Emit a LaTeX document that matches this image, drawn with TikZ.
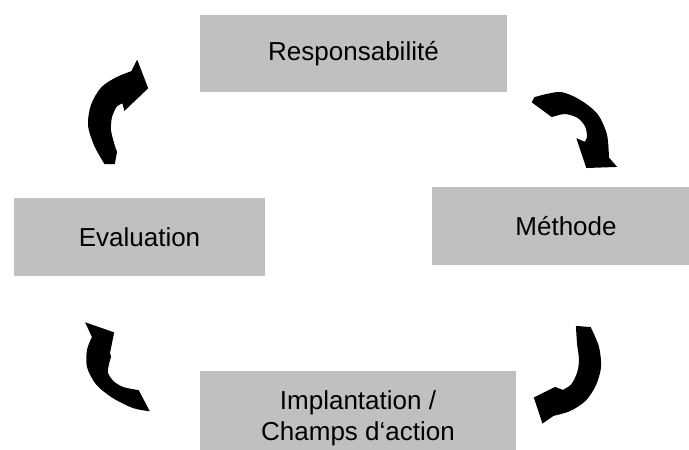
\documentclass[tikz,border=0pt]{standalone}
\usepackage{fontspec}
\setmainfont{Liberation Sans}
\definecolor{boxgrey}{RGB}{192,192,192}

\begin{document}
\begin{tikzpicture}[x = 1pt, y = -1pt,
                      stage/.style = {rectangle, fill = boxgrey, inner sep = 0pt, align = center,
                                      font = \fontsize{26}{31}\selectfont},
                      turn/.style = {fill = black, draw = black, line width = 2pt, line join = miter}]
    \useasboundingbox (0, 0) rectangle (689, 450);
    \clip (0, 0) rectangle (689, 450);

    \node [stage, minimum width = 307, minimum height = 77] (resp) at (353.5, 53.5){Responsabilité};
    \node [stage, minimum width = 268, minimum height = 78] (meth) at (566, 226){Méthode};
    \node [stage, minimum width = 316, minimum height = 94] (impl) at (358, 418){Implantation /\\Champs d‘action};
    \node [stage, minimum width = 251, minimum height = 78] (eval) at (139.5, 237){Evaluation};

    % Evaluation -> Responsabilite
    \fill [turn] plot [smooth] coordinates {(105, 163) (95, 145) (89, 125) (92, 105) (102, 88) (117, 78) (132, 72)}
        -- (137, 62) -- (147, 88) -- (125, 109) -- (123, 102)
        -- plot [smooth] coordinates {(123, 102) (116, 106) (111, 117) (110, 130) (113, 143) (116, 152)}
        -- (114, 163) -- cycle;
    % Responsabilite -> Methode
    \fill [turn] plot [smooth] coordinates {(535, 98) (560, 93) (580, 101) (597, 115) (606, 135) (608, 158)}
        -- (615, 166) -- (587, 167) -- (578, 140) -- (585, 143)
        -- plot [smooth] coordinates {(585, 143) (588, 137) (586, 126) (578, 117) (565, 113) (552, 116)}
        -- (533, 102) -- cycle;
    % Methode -> Implantation
    \fill [turn] plot [smooth] coordinates {(590, 328) (598, 347) (600, 367) (595, 385) (585, 400) (570, 410) (553, 415)}
        -- (543, 422) -- (535, 398) -- (555, 388) -- (563, 391)
        -- plot [smooth] coordinates {(563, 391) (572, 385) (578, 373) (580, 360) (578, 343) (577, 327)}
        -- cycle;
    % Implantation -> Evaluation
    \fill [turn] plot [smooth] coordinates {(148, 410) (133, 407) (113, 397) (97, 384) (88, 367) (88, 350) (93, 337)}
        -- (87, 324) -- (113, 333) -- (109, 353) -- (110, 357)
        -- plot [smooth] coordinates {(110, 357) (108, 364) (107, 373) (113, 382) (123, 388) (138, 391)}
        -- cycle;
\end{tikzpicture}
\end{document}
